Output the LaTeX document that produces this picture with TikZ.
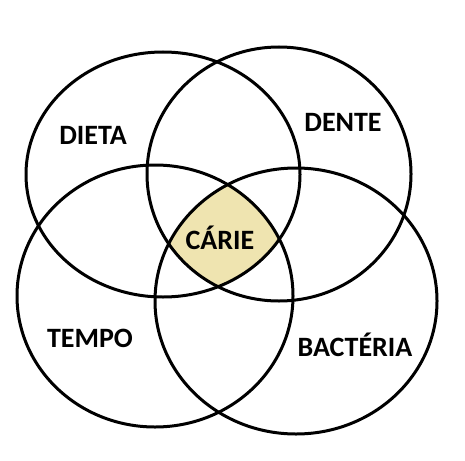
\documentclass[tikz,border=0pt]{standalone}
\usepackage{fontspec}
\setmainfont{Carlito}
\usetikzlibrary{calc}
\definecolor{cariefill}{RGB}{239,228,176}

\begin{document}
\begin{tikzpicture}[x=1pt, y=-1pt]

\tikzset{
ring/.style={draw=black, line width=3pt},
core/.style={fill=cariefill},
lab/.style={font=\fontsize{28}{32}\selectfont\bfseries, text=black, inner sep=0pt}
}

\useasboundingbox (0,0) rectangle (465,460);

% Centres
\coordinate (dieta) at (163,174.5);
\coordinate (dente) at (279,174);
\coordinate (tempo) at (155,296);
\coordinate (bact) at (296,301);

% Common part
\begin{scope}
\clip (dieta) ellipse [x radius=137, y radius=122.5];
\clip (dente) ellipse [x radius=132, y radius=127];
\clip (tempo) ellipse [x radius=138, y radius=131];
\clip (bact) ellipse [x radius=141, y radius=133];
\fill[core] (0,0) rectangle (465,460);
\end{scope}

% Rings
\draw[ring] (dieta) ellipse [x radius=137, y radius=122.5];
\draw[ring] (dente) ellipse [x radius=132, y radius=127];
\draw[ring] (tempo) ellipse [x radius=138, y radius=131];
\draw[ring] (bact) ellipse [x radius=141, y radius=133];

% Labels
\node[lab] (labdieta) at (93,135) {DIETA};
\node[lab] (labdente) at (343,122) {DENTE};
\node[lab] (labtempo) at (90,338) {TEMPO};
\node[lab] (labbact) at (355,345) {BACTÉRIA};
\node[lab] (labcarie) at (220,238) {CÁRIE};

\end{tikzpicture}
\end{document}
